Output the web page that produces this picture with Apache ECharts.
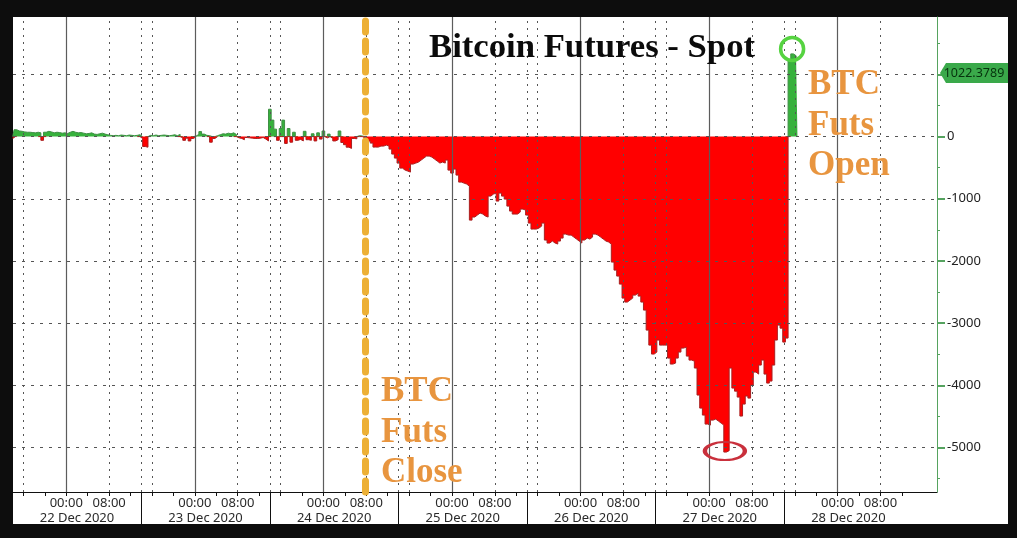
<!DOCTYPE html>
<html>
<head>
<meta charset="utf-8">
<title>Bitcoin Futures - Spot</title>
<script src="https://cdn.jsdelivr.net/npm/echarts@6/dist/echarts.min.js"></script>
<style>
html, body { margin: 0; padding: 0; background: #0d0d0d; }
#main { width: 1017px; height: 538px; }
</style>
</head>
<body>
<div id="main"></div>
<script>
// half hour bars, hours are counted from 22 Dec 2020 00:00
var firstHour = -10;
var stepHours = 0.5;

var spread = [
    // 21 Dec evening - 22 Dec
    -30, 110, 90, 85, 75, 70, 70, 65, 60, 70, 60, -60, 70, 85, 75, 60, 70, 65, 55, 60,
    50, 70, 85, 70, 60, 65, 55, 45, 50, 60, 40, 35, 45, 55, 40, 30, 20,
    15, 20, 15, 25, 20, 15, 25, 20, 15, 20, 30, -30, -160, -170,
    // 23 Dec
    20, 15, 25, 15, 20, 25, 20, 15, 20, 30, 15, 35,
    -20, -60, -25, -70, -30, 10, 35, 80, 40, 20, 15, -90, -30, 15, 30, 45, 40, 55, 45, 60, 35,
    -20, -30, -50, -15, -20, -25, -30, -30, -25, -15, -40, -70,
    // 24 Dec
    440, 265, 120, -60, 130, 265, -110, 130, -90, 70, -60, -45, -70, 85, -50, -60, 45, -70, 60, -40,
    90, -20, 40, -30, -70, -50, 90, -95, -130, -170, -190, -30, -35, 15, 10, -20,
    // futures closed from here
    -24, -72, -105, -169, -169, -153, -153, -137, -153, -201, -281, -346, -426, -507, -539, -555, -571,
    -442, -426, -410, -378, -346, -314, -314, -330, -362, -394, -426, -410, -426, -378, -539, -587, -523,
    -619, -732, -748, -764, -796, -1343, -1294, -1262, -1230, -1246, -1278, -1294, -957, -925, -909, -1037,
    -909, -957, -1005, -1118, -1198, -1246, -1246, -1214, -1166, -1182, -1262, -1391, -1487, -1487, -1471,
    -1439, -1391, -1664, -1712, -1680, -1712, -1728, -1680, -1632, -1568, -1584, -1584, -1616, -1648, -1680,
    -1712, -1664, -1632, -1648, -1616, -1568, -1584, -1616, -1648, -1680, -1696, -1728, -2018, -2147, -2243,
    -2372, -2597, -2661, -2629, -2597, -2549, -2517, -2565, -2661, -2790, -3112, -3353, -3497, -3465, -3272,
    -3353, -3353, -3353, -3562, -3658, -3642, -3562, -3465, -3401, -3385, -3530, -3594, -3610, -3722, -4156,
    -4366, -4478, -4623, -4639, -4559, -4543, -4575, -4607, -4639, -5073, -5050, -3722, -4044, -4093, -4189,
    -4494, -4301, -4172, -4205, -3996, -3787, -3819, -3674, -3594, -3819, -3964, -3931, -3674, -3272, -3031,
    -3080, -3305, -3240,
    // futures open again
    1230, 1330, 1300, 1230
];

var sessionDates = ['22 Dec 2020', '23 Dec 2020', '24 Dec 2020', '25 Dec 2020', '26 Dec 2020', '27 Dec 2020', '28 Dec 2020'];
var sessionMiddles = [2, 26, 50, 74, 98, 122, 146];
var sessionBreaks = [14, 38, 62, 86, 110, 134];
var midnights = [0, 24, 48, 72, 96, 120, 144];
var timeLabels = [0, 8, 24, 32, 48, 56, 72, 80, 96, 104, 120, 128, 144, 152];
var dottedHours = [-8, 8, 16, 32, 40, 56, 64, 80, 88, 104, 112, 128, 136, 152];
var timeTicks = [-8, -4, 0, 4, 8, 12, 16, 20, 24, 28, 32, 36, 40, 44, 48, 52, 56, 60, 64, 68, 72, 76, 80, 84,
    88, 92, 96, 100, 104, 108, 112, 116, 120, 124, 128, 132, 136, 140, 144, 148, 152, 156];
var valueLabels = [0, -1000, -2000, -3000, -4000, -5000];
var valueLines = [1000, 0, -1000, -2000, -3000, -4000, -5000];
var valueMinors = [1500, 500, -500, -1500, -2500, -3500, -4500, -5500];

var lastPrice = 1022.3789;
var closeHour = 55.75;
var highPoint = [135.5, 1410];
var lowPoint = [122.95, -5057];

var hourMin = -9.95, hourMax = 162.55;
var valueMin = -5715, valueMax = 1923;

var gridDark = '#555555';
var axisGreen = '#56a35f';
var orange = '#e8953f';
var labelFont = '"Noto Sans", sans-serif';

// one filled step line per sign, a run of bars is closed with a zero on each side
function signedRuns(sign) {
    var out = [];
    for (var i = 0; i < spread.length; i++) {
        var hour = firstHour + i * stepHours;
        var hit = spread[i] * sign > 0;
        var nearHit = spread[i - 1] * sign > 0 || spread[i + 1] * sign > 0;
        out.push([hour, hit ? spread[i] : (nearHit ? 0 : null)]);
    }
    return out;
}

function verticals(list) {
    return list.map(function (h) { return {xAxis: h}; });
}
function horizontals(list) {
    return list.map(function (v) { return {yAxis: v}; });
}
function noteText(text, x, y, size) {
    return {
        type: 'text', x: x, y: y, z: 20,
        style: {text: text, fill: orange, font: 'bold ' + size + 'px "Liberation Serif", serif', lineHeight: 40.5}
    };
}

var myChart = echarts.init(document.getElementById('main'));

var option = {
    backgroundColor: '#0d0d0d',
    animation: false,
    grid: {left: 13, right: 80, top: 17, bottom: 46, show: false},
    graphic: [
        {type: 'rect', z: -10, shape: {x: 13, y: 17, width: 995, height: 507}, style: {fill: '#ffffff'}},
        {type: 'text', x: 429, y: 31, z: 20, style: {text: 'Bitcoin Futures - Spot', fill: '#0b0b0b',
            font: 'bold 34.7px "Liberation Serif", serif'}},
        noteText('BTC\nFuts\nOpen', 808, 65, 35),
        noteText('BTC\nFuts\nClose', 381, 372, 35)
    ],
    xAxis: [
        {
            type: 'value', min: hourMin, max: hourMax, position: 'bottom',
            axisLine: {show: true, onZero: false, lineStyle: {color: '#111111', width: 1}},
            axisTick: {show: true, customValues: timeTicks, length: 4, lineStyle: {color: '#111111'}},
            axisLabel: {
                customValues: timeLabels, margin: 5, color: '#2a2a2a', fontSize: 13, fontFamily: labelFont,
                formatter: function (v) {
                    var h = ((v % 24) + 24) % 24;
                    return (h < 10 ? '0' : '') + h + ':00';
                }
            },
            splitLine: {show: false}
        },
        {
            type: 'value', min: hourMin, max: hourMax, position: 'bottom',
            axisLine: {show: false, onZero: false},
            axisTick: {show: true, customValues: sessionBreaks, length: 32, lineStyle: {color: '#111111'}},
            axisLabel: {
                customValues: sessionMiddles, margin: 20, color: '#2a2a2a', fontSize: 13, fontFamily: labelFont,
                formatter: function (v) {
                    return sessionDates[sessionMiddles.indexOf(v)];
                }
            },
            splitLine: {show: false}
        }
    ],
    yAxis: [
        {
            type: 'value', min: valueMin, max: valueMax, position: 'right',
            axisLine: {show: true, onZero: false, lineStyle: {color: axisGreen}},
            axisTick: {show: true, customValues: valueLines, length: 8, lineStyle: {color: axisGreen, width: 2}},
            axisLabel: {
                customValues: valueLabels, margin: 10, color: '#222222', fontSize: 13, fontFamily: labelFont,
                formatter: function (v) { return String(v); }
            },
            splitLine: {show: false}
        },
        {
            type: 'value', min: valueMin, max: valueMax, position: 'right',
            axisLine: {show: false, onZero: false},
            axisTick: {show: true, customValues: valueMinors, length: 3, lineStyle: {color: axisGreen}},
            axisLabel: {show: false},
            splitLine: {show: false}
        }
    ],
    series: [
        {
            // grid lines
            name: 'grid', type: 'line', data: [], z: 1, silent: true,
            markLine: {
                silent: true, symbol: 'none', label: {show: false}, animation: false,
                data: verticals(midnights).map(function (d) {
                    d.lineStyle = {color: '#5c5c5c', type: 'solid', width: 1.2};
                    return d;
                }).concat(verticals(dottedHours.concat(sessionBreaks)).map(function (d) {
                    d.lineStyle = {color: gridDark, type: [2, 5], width: 1};
                    return d;
                })).concat(horizontals(valueLines).map(function (d) {
                    d.lineStyle = {color: gridDark, type: [3, 6], width: 1};
                    return d;
                }))
            }
        },
        {name: 'above', type: 'line', data: signedRuns(1), step: 'middle', symbol: 'none', z: 3,
            lineStyle: {color: '#3f8f45', width: 1}, areaStyle: {color: '#37b13c', opacity: 1}},
        {name: 'below', type: 'line', data: signedRuns(-1), step: 'middle', symbol: 'none', z: 4,
            lineStyle: {color: '#a91f1f', width: 1}, areaStyle: {color: '#ff0000', opacity: 1}},
        {
            // notes drawn over the bars
            name: 'notes', type: 'line', data: [], z: 6, silent: true,
            markLine: {
                silent: true, symbol: 'none', label: {show: false}, animation: false,
                data: [{xAxis: closeHour, lineStyle: {color: '#edb035', type: [11, 9], width: 7, cap: 'round'}}]
            },
            markPoint: {
                silent: true, animation: false,
                data: [
                    {coord: highPoint, symbol: 'circle', symbolSize: 23,
                        itemStyle: {color: 'rgba(0,0,0,0)', borderColor: '#56d341', borderWidth: 3.5},
                        label: {show: false}},
                    {coord: lowPoint, symbol: 'circle', symbolSize: [40, 18],
                        itemStyle: {color: 'rgba(0,0,0,0)', borderColor: '#c9303c', borderWidth: 3},
                        label: {show: false}},
                    {coord: [hourMax, lastPrice], symbol: 'path://M0,10 L6,0 L68,0 L68,20 L6,20 Z',
                        symbolSize: [68, 20], symbolOffset: [37, 0], symbolKeepAspect: false,
                        itemStyle: {color: '#3aa94a'},
                        label: {show: true, position: 'inside', formatter: String(lastPrice),
                            color: '#06330d', fontSize: 12.5, fontFamily: labelFont}}
                ]
            }
        }
    ]
};

myChart.setOption(option);
</script>
</body>
</html>
